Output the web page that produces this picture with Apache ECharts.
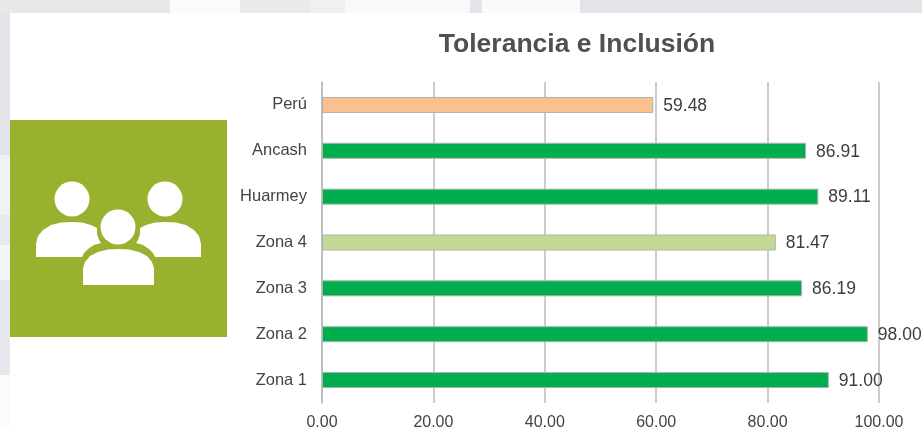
<!DOCTYPE html>
<html><head><meta charset="utf-8">
<style>html,body{margin:0;padding:0;background:#fff}#c{width:922px;height:430px}</style>
<script src="https://cdn.jsdelivr.net/npm/echarts@6/dist/echarts.min.js"></script>
</head><body><div id="c"></div>
<script>
const categories = ['Zona 1','Zona 2','Zona 3','Zona 4','Huarmey','Ancash','Perú'];
const values = [91.00,98.00,86.19,81.47,89.11,86.91,59.48];
const barColors = ['#00ae50','#00ae50','#00ae50','#c5d996','#00ae50','#00ae50','#fac090'];
const titleText = 'Tolerancia e Inclusión';
const font = 'Liberation Sans, Arial, sans-serif';
const chart = echarts.init(document.getElementById('c'), null, {renderer:'canvas'});
const white = {fill:'#fff'};
const green = '#98b12f';
const bodyL = [[36,257],[36,244],[38,236],[43,230],[51,225],[61,222.5],[72,222],[82,222.5],[91,225],[97,228],[97,234],[99,240],[101,243],[94,245],[88,249],[84,253],[82,257]];
const bodyR = bodyL.map(p=>[237-p[0],p[1]]);
const bodyM = [[83,285],[83,268],[85,262],[90,256],[98,252],[108,249.5],[118,249],[129,249.5],[139,252],[147,256],[152,262],[154,268],[154,285]];
const topStrip = [[0,170,'#e6e8ea'],[170,70,'#fbfbfc'],[240,70,'#e9eaec'],[310,35,'#eef0f1'],[345,125,'#f9f9fb'],[470,12,'#e3e4ec'],[482,98,'#fbfafb'],[580,342,'#e3e4e8']];
const leftStrip = [[13,142,'#e3e4e7'],[155,60,'#f1f2f4'],[215,30,'#e8eaee'],[245,35,'#f4f5f7'],[280,95,'#e6e8ee'],[375,55,'#fcfcfd']];
const strips = topStrip.map(s=>({type:'rect',silent:true,z:-10,shape:{x:s[0],y:0,width:s[1],height:13},style:{fill:s[2]}}))
  .concat(leftStrip.map(s=>({type:'rect',silent:true,z:-10,shape:{x:0,y:s[0],width:10,height:s[1]},style:{fill:s[2]}})));
chart.setOption({
  animation:false,
  backgroundColor:'#fff',
  title:{text:titleText,left:572,top:26,textAlign:'center',textStyle:{fontFamily:font,fontSize:26.5,fontWeight:'bold',color:'#505050'}},
  grid:{left:322,top:82,width:557,height:321,outerBoundsMode:'none'},
  xAxis:{type:'value',min:0,max:100,interval:20,
    axisLine:{show:false},axisTick:{show:false},
    splitLine:{show:true,lineStyle:{color:'#bbbbbb',width:1.5}},
    axisLabel:{formatter:v=>v.toFixed(2),fontFamily:font,fontSize:16,color:'#444',margin:12}},
  yAxis:{type:'category',data:categories,
    axisLine:{show:true,lineStyle:{color:'#bbbbbb',width:1.5}},axisTick:{show:false},
    axisLabel:{fontFamily:font,fontSize:16.5,color:'#444',margin:15}},
  series:[{type:'bar',barWidth:16,
    data:values.map((v,i)=>({value:v,itemStyle:{color:barColors[i],borderColor:'#a9b5a9',borderWidth:1}})),
    label:{show:true,position:'right',distance:10,offset:[0,1],formatter:p=>p.value.toFixed(2),fontFamily:font,fontSize:17.5,color:'#3c3c3c'}}],
  graphic:strips.concat([
    {type:'rect',silent:true,z:-5,shape:{x:10,y:120,width:217,height:217},style:{fill:green}},
    {type:'circle',silent:true,z:-4,shape:{cx:72,cy:199,r:17.5},style:white},
    {type:'circle',silent:true,z:-4,shape:{cx:165,cy:199,r:17.5},style:white},
    {type:'polygon',silent:true,z:-4,shape:{points:bodyL},style:white},
    {type:'polygon',silent:true,z:-4,shape:{points:bodyR},style:white},
    {type:'polygon',silent:true,z:-3,shape:{points:bodyM},style:{fill:green,stroke:green,lineWidth:7}},
    {type:'circle',silent:true,z:-3,shape:{cx:118,cy:227,r:21},style:{fill:green}},
    {type:'polygon',silent:true,z:-2,shape:{points:bodyM},style:white},
    {type:'circle',silent:true,z:-2,shape:{cx:118,cy:227,r:17.5},style:white}
  ])
});
</script></body></html>
